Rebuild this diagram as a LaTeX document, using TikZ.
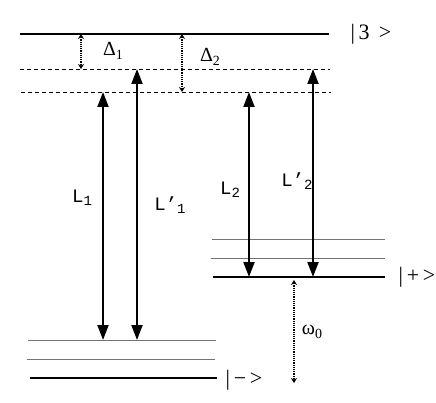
\documentclass[tikz,border=0pt]{standalone}
\usepackage{fontspec}
\setmainfont{Liberation Serif}
\setmonofont{Liberation Mono}
\usetikzlibrary{arrows.meta}
\newcommand{\lowsub}[1]{\raisebox{-0.4ex}{\fontsize{14}{14}\selectfont #1}}
\newcommand{\ttsub}[1]{\raisebox{-0.3ex}{\fontsize{14}{14}\selectfont #1}}
\begin{document}
\begin{tikzpicture}[x=1pt,y=1pt,
  level/.style={line width=2.4pt},
  sublevel/.style={line width=0.9pt, draw=black!55},
  virt/.style={dashed, line width=0.7pt, dash pattern=on 4pt off 3pt},
  laser/.style={line width=2pt, {Triangle[length=15pt,width=11pt]}-{Triangle[length=15pt,width=11pt]}},
  detune/.style={densely dotted, line width=1.2pt, {Stealth[length=5pt,width=6pt]}-{Stealth[length=5pt,width=6pt]}},
  lbl/.style={inner sep=0pt, font=\fontsize{20}{20}\selectfont},
  ket/.style={inner sep=0pt, font=\fontsize{22}{22}\selectfont},
  tlbl/.style={inner sep=0pt, font=\ttfamily\fontsize{19}{19}\selectfont}]
\useasboundingbox (0,0) rectangle (436,402);
% level |3>
\coordinate (t3a) at (20,368); \coordinate (t3b) at (329,368);
\draw[level] (t3a) -- (t3b);
\node[ket] (k3) at (371,368) {|\,3\, >};
% virtual levels
\coordinate (v1a) at (20,333); \coordinate (v1b) at (330,333);
\coordinate (v2a) at (21,310); \coordinate (v2b) at (331,310);
\draw[virt] (v1a) -- (v1b);
\draw[virt] (v2a) -- (v2b);
% lower-left manifold
\coordinate (m1a) at (28,62); \coordinate (m1b) at (216,62);
\coordinate (m2a) at (27,43); \coordinate (m2b) at (215,43);
\coordinate (m3a) at (30,24); \coordinate (m3b) at (217,24);
\draw[sublevel] (m1a) -- (m1b);
\draw[sublevel] (m2a) -- (m2b);
\draw[level] (m3a) -- (m3b);
\node[ket] (km) at (244,22) {|\,−\,>};
% right manifold
\coordinate (p1a) at (212,163); \coordinate (p1b) at (385,163);
\coordinate (p2a) at (211,144); \coordinate (p2b) at (385,144);
\coordinate (p3a) at (213,125); \coordinate (p3b) at (385,125);
\draw[sublevel] (p1a) -- (p1b);
\draw[sublevel] (p2a) -- (p2b);
\draw[level] (p3a) -- (p3b);
\node[ket] (kp) at (417,125) {|\,+\,>};
% detunings
\coordinate (d1t) at (81,368); \coordinate (d1b) at (81,333);
\coordinate (d2t) at (182,368); \coordinate (d2b) at (182,310);
\draw[detune] (d1t) -- (d1b);
\draw[detune] (d2t) -- (d2b);
\node[lbl] (D1) at (113,351) {Δ\lowsub{1}};
\node[lbl] (D2) at (210,345) {Δ\lowsub{2}};
% lasers
\coordinate (l1t) at (103,310); \coordinate (l1b) at (103,62);
\coordinate (l1pt) at (137,333); \coordinate (l1pb) at (137,62);
\coordinate (l2t) at (249,310); \coordinate (l2b) at (249,125);
\coordinate (l2pt) at (313,333); \coordinate (l2pb) at (313,125);
\draw[laser] (l1t) -- (l1b);
\draw[laser] (l1pt) -- (l1pb);
\draw[laser] (l2t) -- (l2b);
\draw[laser] (l2pt) -- (l2pb);
\node[tlbl] (L1) at (82,204) {L\ttsub{1}};
\node[tlbl] (L1p) at (170,197) {L’\ttsub{1}};
\node[tlbl] (L2) at (230,212) {L\ttsub{2}};
\node[tlbl] (L2p) at (297,221) {L’\ttsub{2}};
% omega0
\coordinate (wt) at (294,122); \coordinate (wb) at (294,19);
\draw[detune] (wt) -- (wb);
\node[lbl] (w0) at (312,70) {ω\lowsub{0}};
\end{tikzpicture}
\end{document}
